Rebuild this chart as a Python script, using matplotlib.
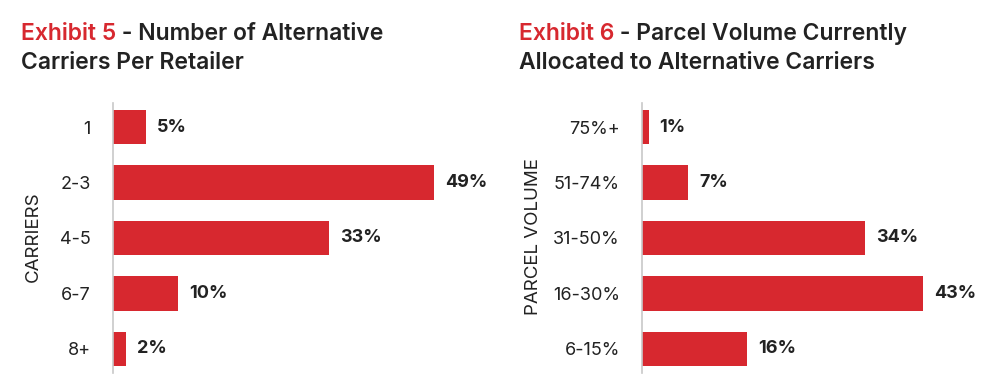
import matplotlib
matplotlib.use("Agg")
import matplotlib.pyplot as plt

plt.rcParams['font.family'] = ['Inter', 'DejaVu Sans']

RED = "#d7282f"
DARK = "#222222"

carriers = ["1", "2-3", "4-5", "6-7", "8+"]
carriers_pct = [5, 49, 33, 10, 2]

volume = ["75%+", "51-74%", "31-50%", "16-30%", "6-15%"]
volume_pct = [1, 7, 34, 43, 16]

fig = plt.figure(figsize=(10, 3.82), dpi=100)


def panel(left, cats, vals, ylabel, label_x):
    ax = fig.add_axes([left, 0.0236, 0.36, 0.707])
    y = range(len(cats))
    ax.barh(y, vals, height=0.62, color=RED)
    ax.set_ylim(4.435, -0.435)
    ax.set_xlim(0, 55)
    ax.set_yticks(list(y))
    ax.set_yticklabels(cats, fontsize=13, color=DARK)
    ax.tick_params(axis='y', length=0, pad=16)
    ax.set_xticks([])
    for s in ['top', 'right', 'bottom']:
        ax.spines[s].set_visible(False)
    ax.spines['left'].set_color("#c8c8c8")
    ax.spines['left'].set_linewidth(1.2)
    for yi, v in zip(y, vals):
        ax.annotate(f"{v}%", xy=(v, yi), xytext=(8, 0), textcoords='offset points',
                    va='center', ha='left', fontsize=13, fontweight='bold', color=DARK)
    fig.text(label_x, 0.38, ylabel, rotation=90, ha='center', va='center',
             fontsize=13.5, color=DARK)
    return ax


panel(0.113, carriers, carriers_pct, "CARRIERS", 0.033)
panel(0.642, volume, volume_pct, "PARCEL VOLUME", 0.533)


def title(x, red, rest1, line2):
    t1 = fig.text(x, 1 - 40 / 382, red, fontsize=16.5, fontweight='semibold',
                  color=RED, va='baseline', ha='left')
    fig.add_artist(plt.Annotation(rest1, xy=(1, 0), xycoords=t1, va='bottom', ha='left',
                                  fontsize=16.5, fontweight='semibold', color=DARK))
    fig.text(x, 1 - 69 / 382, line2, fontsize=16.5, fontweight='semibold',
             color=DARK, va='baseline', ha='left')


title(0.021, "Exhibit 5", " - Number of Alternative", "Carriers Per Retailer")
title(0.519, "Exhibit 6", " - Parcel Volume Currently", "Allocated to Alternative Carriers")

fig.savefig("out.png", dpi=100)
